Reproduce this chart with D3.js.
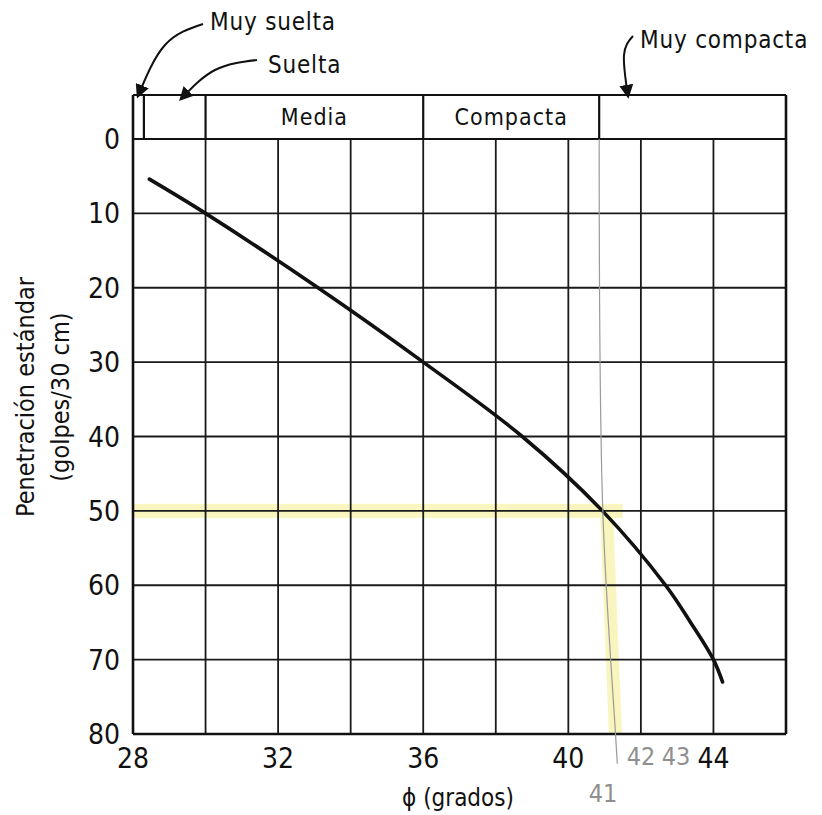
<!DOCTYPE html>
<html>
<head>
<meta charset="utf-8">
<script src="https://cdn.jsdelivr.net/npm/d3@7"></script>
<style>
  body { margin: 0; background: #fff; }
  svg text { font-family: "Liberation Sans Narrow", "DejaVu Sans Condensed", "Roboto", sans-serif; fill: #111; }
  .hand { font-family: "DejaVu Sans Condensed", sans-serif; font-weight: 200; fill: #8f8f8f; }
</style>
</head>
<body>
<svg id="chart" width="822" height="815"></svg>
<script>
// ---- data ----
const xGrid = [28, 30, 32, 34, 36, 38, 40, 42, 44, 46];
const xTicks = [28, 32, 36, 40, 44];
const yTicks = [0, 10, 20, 30, 40, 50, 60, 70, 80];

// density classes along phi (start, end)
const classNames = ["Muy suelta", "Suelta", "Media", "Compacta", "Muy compacta"];
const classBounds = [28, 28.3, 30, 36, 40.85, 46];

// N (golpes/30 cm) vs phi (grados)
const curvePhi = [28.45, 30, 33.1, 36, 38.73, 40.94, 42.68, 43.37, 44, 44.25];
const curveN   = [5.4, 10, 20, 30, 40, 50, 60, 65, 70, 73];

// hand-made reading: N = 50 -> phi ~ 41
const readN = 50;
const readPhi = [40.85, 40.95, 41.3, 41.35];
const readLineN = [0, 50, 80, 84];
const handNotes = ["41", "42", "43"];

// ---- layout ----
const svg = d3.select("#chart");
const x = d3.scaleLinear().domain([28, 46]).range([133, 786]);
const y = d3.scaleLinear().domain([0, 80]).range([139, 734]);
const bandTop = 95;

// yellow highlighter first, beneath the ink
const hl = svg.append("g").attr("opacity", 0.45);
hl.append("rect")
    .attr("x", x(28)).attr("y", y(readN) - 7)
    .attr("width", x(41.5) - x(28)).attr("height", 14)
    .attr("fill", "#f1ec70");
hl.append("path")
    .attr("d", d3.line()([[x(41.05), y(readN)], [x(41.3), y(80)]]))
    .attr("stroke", "#f1ec70").attr("stroke-width", 13).attr("fill", "none");

// grid
const grid = svg.append("g").attr("stroke", "#1a1a1a").attr("stroke-width", 1.8);
grid.selectAll("line.v").data(xGrid.slice(1, -1)).join("line")
    .attr("x1", d => x(d)).attr("x2", d => x(d))
    .attr("y1", y(0)).attr("y2", y(80));
grid.selectAll("line.h").data(yTicks.slice(1, -1)).join("line")
    .attr("x1", x(28)).attr("x2", x(46))
    .attr("y1", d => y(d)).attr("y2", d => y(d));

// class band on top
const band = svg.append("g").attr("stroke", "#111").attr("stroke-width", 2.2);
band.append("line").attr("x1", x(28)).attr("x2", x(46)).attr("y1", bandTop).attr("y2", bandTop);
band.append("line").attr("x1", x(28)).attr("x2", x(46)).attr("y1", y(0)).attr("y2", y(0));
band.selectAll("line.div").data(classBounds.slice(1, -1)).join("line")
    .attr("x1", d => x(d)).attr("x2", d => x(d))
    .attr("y1", bandTop).attr("y2", y(0));

// frame
const frame = svg.append("g").attr("stroke", "#111").attr("stroke-width", 2.6).attr("fill", "none");
frame.append("line").attr("x1", x(28)).attr("x2", x(28)).attr("y1", bandTop).attr("y2", y(80));
frame.append("line").attr("x1", x(46)).attr("x2", x(46)).attr("y1", bandTop).attr("y2", y(80));
frame.append("line").attr("x1", x(28)).attr("x2", x(46)).attr("y1", y(80)).attr("y2", y(80));

// class labels inside the band
svg.selectAll("text.cls").data([2, 3]).join("text")
    .attr("x", i => (x(classBounds[i]) + x(classBounds[i + 1])) / 2)
    .attr("y", (bandTop + y(0)) / 2 + 8)
    .attr("text-anchor", "middle").attr("font-size", 23)
    .attr("letter-spacing", 1)
    .text(i => classNames[i]);

// class labels with arrows above
const outside = [
  {i: 0, tx: 210, ty: 30, path: [[203, 24], [165, 45], [138, 96]]},
  {i: 1, tx: 268, ty: 73, path: [[257, 60], [215, 70], [181, 99]]},
  {i: 4, tx: 640, ty: 48, path: [[633, 36], [624, 55], [628, 96]]}
];
svg.append("defs").append("marker")
    .attr("id", "head").attr("viewBox", "0 0 10 10").attr("refX", 8).attr("refY", 5)
    .attr("markerWidth", 7).attr("markerHeight", 7).attr("orient", "auto")
  .append("path").attr("d", "M0,0 L10,5 L0,10 Z").attr("fill", "#111");
svg.selectAll("path.arr").data(outside).join("path")
    .attr("d", d => d3.line().curve(d3.curveNatural)(d.path))
    .attr("fill", "none").attr("stroke", "#111").attr("stroke-width", 2)
    .attr("marker-end", "url(#head)");
svg.selectAll("text.out").data(outside).join("text")
    .attr("x", d => d.tx).attr("y", d => d.ty)
    .attr("font-size", 24).attr("letter-spacing", 0.8)
    .text(d => classNames[d.i]);

// the curve
svg.append("path")
    .datum(curvePhi.map((p, k) => [p, curveN[k]]))
    .attr("d", d3.line().x(d => x(d[0])).y(d => y(d[1])).curve(d3.curveCatmullRom.alpha(0.5)))
    .attr("fill", "none").attr("stroke", "#111").attr("stroke-width", 3.6)
    .attr("stroke-linecap", "round");

// pencil reading line
svg.append("path")
    .datum(readPhi.map((p, k) => [p, readLineN[k]]))
    .attr("d", d3.line().x(d => x(d[0])).y(d => y(d[1])).curve(d3.curveCatmullRom))
    .attr("fill", "none").attr("stroke", "#9a9a9a").attr("stroke-width", 1.2);

// axes tick labels
svg.selectAll("text.yt").data(yTicks).join("text")
    .attr("x", 120).attr("y", d => y(d)).attr("dy", "0.36em")
    .attr("text-anchor", "end").attr("font-size", 28)
    .text(d => d);
svg.selectAll("text.xt").data(xTicks).join("text")
    .attr("x", d => x(d)).attr("y", 768)
    .attr("text-anchor", "middle").attr("font-size", 28)
    .text(d => d);

// axis titles
const yt = svg.append("text")
    .attr("transform", "translate(34," + 397 + ") rotate(-90)")
    .attr("text-anchor", "middle").attr("font-size", 25);
yt.append("tspan").attr("x", 0).attr("dy", 0).text("Penetración estándar");
yt.append("tspan").attr("x", 0).attr("dy", 35).text("(golpes/30 cm)");

svg.append("text")
    .attr("x", 458).attr("y", 806).attr("text-anchor", "middle").attr("font-size", 24)
    .text("ϕ (grados)");

// handwritten notes under the axis
const notePos = [[603, 802], [641, 765], [676, 765]];
svg.selectAll("text.hand").data(handNotes).join("text")
    .attr("class", "hand")
    .attr("x", (d, k) => notePos[k][0]).attr("y", (d, k) => notePos[k][1])
    .attr("text-anchor", "middle").attr("font-size", 25)
    .text(d => d);
</script>
</body>
</html>
